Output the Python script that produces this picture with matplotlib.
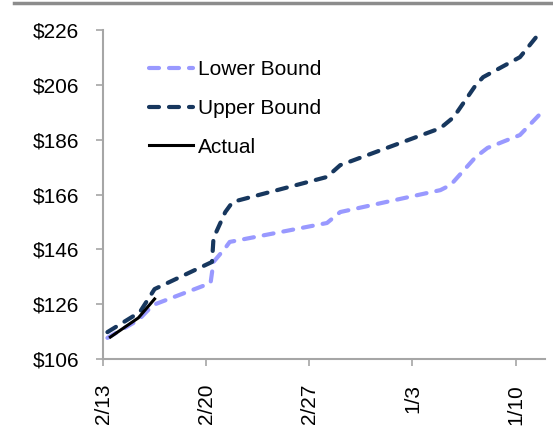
import matplotlib
matplotlib.use("Agg")
import matplotlib.pyplot as plt
from matplotlib.lines import Line2D

plt.rcParams["font.family"] = ["Liberation Sans", "DejaVu Sans"]

# days after 2/13
lower_days = [0.3, 2.4, 3.4, 7.3, 7.5, 8.3, 8.6, 15.2, 16.1, 22.9, 23.6, 24.5, 25.3, 26.1, 28.3, 29.6]
lower_vals = [113.7, 120.2, 125.7, 133.7, 141.4, 146.5, 148.7, 155.6, 159.6, 167.6, 169.5, 174.9, 179.7, 183.0, 187.7, 195.0]

upper_days = [0.3, 2.5, 3.5, 7.4, 7.5, 8.3, 8.8, 15.2, 16.1, 22.9, 23.8, 25.3, 25.8, 28.3, 29.4]
upper_vals = [115.8, 123.1, 131.5, 141.4, 150.1, 159.6, 163.3, 172.4, 176.7, 190.2, 194.2, 205.9, 208.8, 216.1, 223.4]

actual_days = [0.5, 2.4, 3.5]
actual_vals = [114.0, 121.0, 127.9]

tick_days = [0, 7, 14, 21, 28]
tick_labels = ["2/13", "2/20", "2/27", "1/3", "1/10"]
y_ticks = [106, 126, 146, 166, 186, 206, 226]

fig = plt.figure(figsize=(5.53, 4.28), dpi=100)
ax = fig.add_axes([103 / 553, 1 - 359 / 428, 442 / 553, 329 / 428])

dash = dict(linestyle=(0, (2.4, 2.4)), dash_capstyle="round", lw=3.0)
ax.plot(lower_days, lower_vals, color="#9999FF", label="Lower Bound", **dash)
ax.plot(upper_days, upper_vals, color="#17375E", label="Upper Bound", **dash)
ax.plot(actual_days, actual_vals, color="black", lw=2.2, label="Actual")

ax.set_xlim(0, 30)
ax.set_ylim(106, 226)
ax.set_xticks(tick_days)
ax.set_xticklabels(tick_labels, rotation=90)
ax.set_yticks(y_ticks)
ax.set_yticklabels(["$%d" % v for v in y_ticks])

for side in ["top", "right"]:
    ax.spines[side].set_visible(False)
for side in ["left", "bottom"]:
    ax.spines[side].set_color("#A6A6A6")
    ax.spines[side].set_linewidth(1.5)
ax.tick_params(axis="both", colors="#A6A6A6", length=5, width=1.2, labelsize=15, labelcolor="black")
ax.tick_params(axis="y", pad=12)
ax.tick_params(axis="x", pad=13)

handles = [
    Line2D([], [], color="#9999FF", **dash),
    Line2D([], [], color="#17375E", **dash),
    Line2D([], [], color="black", lw=2.2),
]
fig.legend(handles, ["Lower Bound", "Upper Bound", "Actual"], loc="upper left",
           bbox_to_anchor=(149 / 553, 1 - 60 / 428), frameon=False, fontsize=15,
           handlelength=2.1, handletextpad=0.25, labelspacing=0.95, borderpad=0, borderaxespad=0)

# gray rule at the top
fig.add_artist(Line2D([14 / 553, 1], [1 - 3 / 428, 1 - 3 / 428], color="#8C8C8C", lw=2.5,
                      transform=fig.transFigure))

fig.savefig("out.png", dpi=100)
